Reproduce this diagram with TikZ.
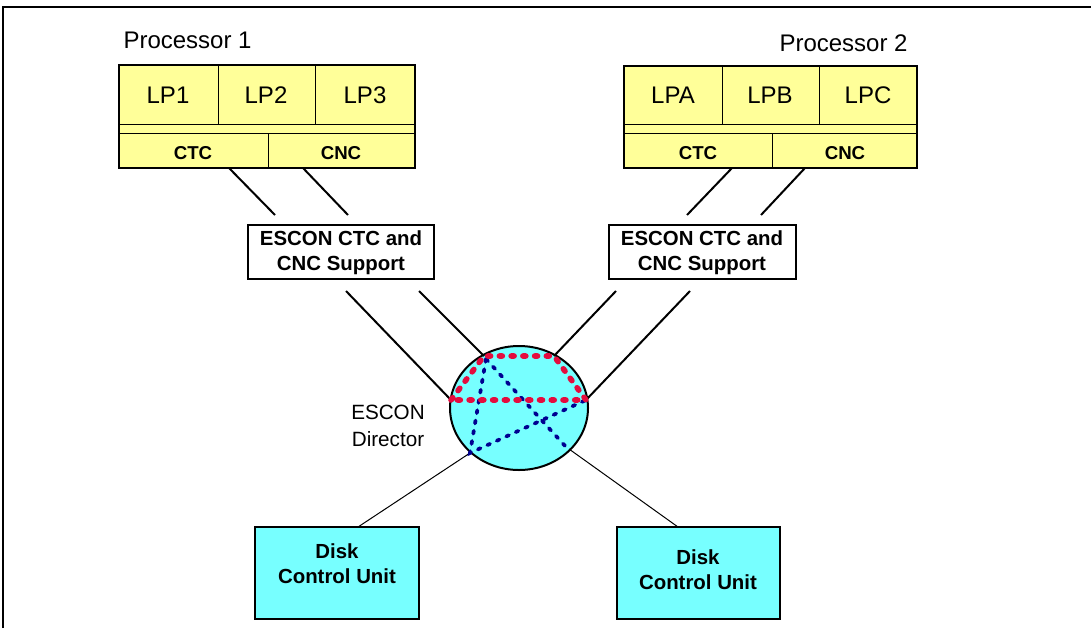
\documentclass[tikz,border=0pt]{standalone}
\usepackage{fontspec}
\setmainfont{Liberation Sans}
\definecolor{lpyellow}{RGB}{255,255,153}
\definecolor{unitcyan}{RGB}{119,255,255}
\definecolor{pathred}{RGB}{228,12,62}
\definecolor{pathblue}{RGB}{0,0,145}
\tikzset{every picture/.style={line width=0.75pt}}
\tikzset{
  lplabel/.style={inner sep=0.75pt, font=\fontsize{18}{21}\selectfont},
  chlabel/.style={inner sep=0.75pt, font=\fontsize{14}{16}\selectfont\bfseries},
  boxlabel/.style={inner sep=0.75pt, align=center, font=\fontsize{15.3}{18.75}\selectfont\bfseries},
  link/.style={line width=1.5},
  thinlink/.style={line width=0.75},
  redpath/.style={draw=pathred, line width=4.2, line cap=round, dash pattern=on 2.2pt off 6.6pt},
  bluepath/.style={draw=pathblue, line width=2.8, line cap=round, dash pattern=on 2.2pt off 5.6pt}
}

\begin{document}
\begin{tikzpicture}[x=0.75pt,y=0.75pt,yscale=-1,xscale=1]
\useasboundingbox (0,0) rectangle (1091,628);

%Frame
\draw [line width=1.2]  (3,628) -- (3,7) -- (1091,7) ;

%Shape: Processor 1
\draw [fill=lpyellow]  (119,65) rectangle (415,168) ;
\draw  (218,65) -- (218,124) (315,65) -- (315,124) (119,124) -- (415,124) (119,133) -- (415,133) (268,133) -- (268,168) ;
\draw [line width=2]  (119,65) rectangle (415,168) ;
%Shape: Processor 2
\draw [fill=lpyellow]  (624,66) rectangle (917,168) ;
\draw  (722,66) -- (722,124) (819,66) -- (819,124) (624,124) -- (917,124) (624,133) -- (917,133) (772,133) -- (772,168) ;
\draw [line width=2]  (624,66) rectangle (917,168) ;

%Shape: ESCON boxes
\draw [line width=1.1, fill=white]  (248,225) rectangle (434,279) ;
\draw [line width=1.1, fill=white]  (609,225) rectangle (796,279) ;

%Shape: Disk Control Units
\draw [line width=1.1, fill=unitcyan]  (255,527) rectangle (419,619) ;
\draw [line width=1.1, fill=unitcyan]  (617,527) rectangle (780,619) ;

%Shape: ESCON Director
\draw [line width=1.5, fill=unitcyan]  (519,408) ellipse (69 and 62) ;

% Text Node
\draw (122,40) node [anchor=west][lplabel] (proc1) {Processor 1};
% Text Node
\draw (778,43) node [anchor=west][lplabel] (proc2) {Processor 2};
% Text Node
\draw (168,95) node [lplabel] (lp1) {LP1};
\draw (266,95) node [lplabel] (lp2) {LP2};
\draw (365,95) node [lplabel] (lp3) {LP3};
\draw (673,95) node [lplabel] (lpa) {LPA};
\draw (770,95) node [lplabel] (lpb) {LPB};
\draw (868,95) node [lplabel] (lpc) {LPC};
% Text Node
\draw (193,153) node [chlabel] (ctc1) {CTC};
\draw (341,153) node [chlabel] (cnc1) {CNC};
\draw (698,153) node [chlabel] (ctc2) {CTC};
\draw (845,153) node [chlabel] (cnc2) {CNC};
% Text Node
\draw (341,253) node [boxlabel] (esc1) {ESCON CTC and\\CNC Support};
\draw (702,253) node [boxlabel] (esc2) {ESCON CTC and\\CNC Support};
% Text Node
\draw (337,564) node [boxlabel] (disk1) {Disk\\Control Unit};
\draw (698,570) node [boxlabel] (disk2) {Disk\\Control Unit};
% Text Node
\draw (388,426) node [inner sep=0.75pt, align=center, font=\fontsize{15.5}{20.25}\selectfont] (dirlabel) {ESCON\\Director};

%Connector ends
\coordinate (ctc1a) at (229,168);  \coordinate (ctc1b) at (275,215);
\coordinate (cnc1a) at (303,168);  \coordinate (cnc1b) at (348,215);
\coordinate (ctc2a) at (732,168);  \coordinate (ctc2b) at (687,215);
\coordinate (cnc2a) at (805,168);  \coordinate (cnc2b) at (761,215);
\coordinate (esc1a) at (346,291);  \coordinate (esc1b) at (419,291);
\coordinate (esc2a) at (616,291);  \coordinate (esc2b) at (690,291);
\coordinate (dirwest) at (451,400); \coordinate (dirnw) at (484,356);
\coordinate (dirne) at (554,356);   \coordinate (direast) at (586,400);
\coordinate (dirsw) at (470,453);   \coordinate (dirse) at (569,449);
\coordinate (dirin) at (486,359);   \coordinate (dirinse) at (566,447);
\coordinate (disk1top) at (358,527); \coordinate (disk2top) at (678,527);

%Straight Lines
\draw [link]  (ctc1a) -- (ctc1b) ;
\draw [link]  (cnc1a) -- (cnc1b) ;
\draw [link]  (ctc2a) -- (ctc2b) ;
\draw [link]  (cnc2a) -- (cnc2b) ;
\draw [link]  (esc1a) -- (dirwest) ;
\draw [link]  (esc1b) -- (dirnw) ;
\draw [link]  (esc2a) -- (dirne) ;
\draw [link]  (esc2b) -- (direast) ;
\draw [thinlink]  (dirsw) -- (disk1top) ;
\draw [thinlink]  (dirse) -- (disk2top) ;

%Paths through the Director
\draw [bluepath]  (dirin) -- (dirsw) -- (direast) ;
\draw [bluepath]  (dirin) -- (dirinse) ;
\draw [redpath]  (dirwest) -- (dirnw) -- (dirne) -- (direast) -- cycle ;

\end{tikzpicture}
\end{document}
